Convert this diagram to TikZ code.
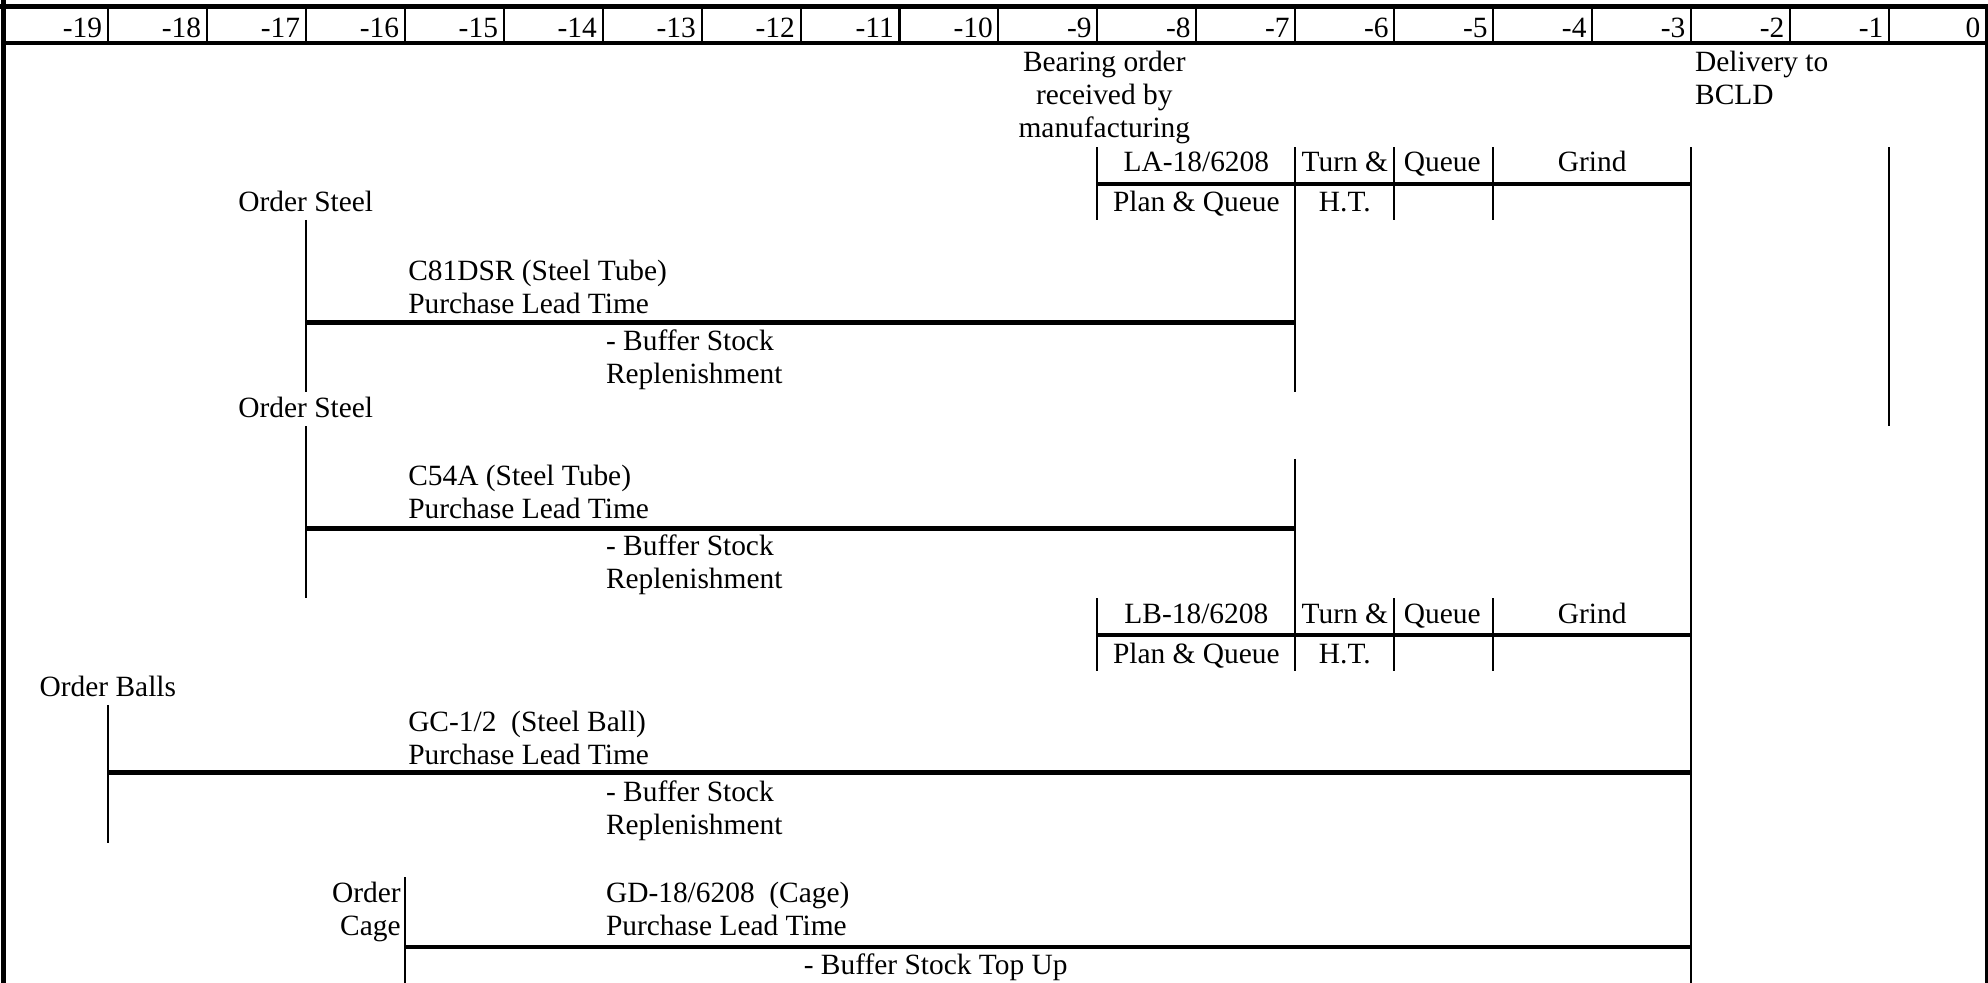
\documentclass[tikz,border=0pt]{standalone}
\usepackage{fontspec}
\setmainfont{Liberation Serif}
\newcommand{\mlines}[2][l]{\begin{tabular}[t]{@{}#1@{}}#2\end{tabular}}
\begin{document}
\begin{tikzpicture}[x=0.5pt,y=-0.5pt,
  every node/.style={inner sep=0pt,outer sep=0pt,font=\fontsize{11.6}{13}\selectfont},
  thinline/.style={line width=0.8pt},
  thickbar/.style={line width=1.8pt},
  frameline/.style={line width=2pt},
  txt/.style={anchor=base west},
  ctxt/.style={anchor=base},
  rtxt/.style={anchor=base east}]
\useasboundingbox (0,0) rectangle (1568,775);

% ---------- frame and header ----------
\coordinate (ftl) at (2.5,0);
\coordinate (fbl) at (2.5,775);
\coordinate (ttl) at (0,5);
\coordinate (ttr) at (1568,5);
\coordinate (rtop) at (1566.5,5);
\coordinate (rbot) at (1566.5,775);
\coordinate (hbl) at (2,34.2);
\coordinate (hbr) at (1566.5,34.2);
\draw[frameline] (ftl) -- (fbl);
\draw[frameline] (ttl) -- (ttr);
\draw[line width=1.1pt] (rtop) -- (rbot);
\draw[line width=1.5pt] (hbl) -- (hbr);
\foreach \n in {1,...,19}{
  \coordinate (sep\n t) at ({7+78.05*\n},5);
  \coordinate (sep\n b) at ({7+78.05*\n},34.2);
  \draw[thinline] (sep\n t) -- (sep\n b);
}
\foreach \n in {1,...,20}{
  \pgfmathsetmacro\xx{min(7+78.05*\n,1566.5)-4.5}
  \pgfmathtruncatemacro\lab{\n-20}
  \node[rtxt] (h\n) at (\xx,29.5) {\lab};
}

% ---------- top texts ----------
\node[ctxt] (bear) at (871,56.5) {\mlines[c]{Bearing order\\received by\\manufacturing}};
\node[txt] (deliv) at (1337,56.5) {\mlines{Delivery to\\BCLD}};

% ---------- LA block ----------
\node[ctxt] (la) at (943.6,135.5) {LA-18/6208};
\node[ctxt] (laturn) at (1060.7,135.5) {Turn \&};
\node[ctxt] (laqueue) at (1137.5,135.5) {Queue};
\node[ctxt] (lagrind) at (1255.8,135.5) {Grind};
\node[ctxt] (laplan) at (943.6,167) {Plan \& Queue};
\node[ctxt] (laht) at (1060.7,167) {H.T.};
\coordinate (laA) at (865.55,116);   \coordinate (laAb) at (865.55,173.5);
\coordinate (laB) at (1021.65,116);  \coordinate (laBb) at (1021.65,309);
\coordinate (laC) at (1099.7,116);   \coordinate (laCb) at (1099.7,173.5);
\coordinate (laD) at (1177.75,116);  \coordinate (laDb) at (1177.75,173.5);
\coordinate (laE) at (1333.85,116);  \coordinate (laEb) at (1333.85,775);
\coordinate (laF) at (1489.95,116);  \coordinate (laFb) at (1489.95,336);
\coordinate (laHl) at (865.55,145);  \coordinate (laHr) at (1333.85,145);
\draw[thinline] (laA) -- (laAb);
\draw[thinline] (laB) -- (laBb);
\draw[thinline] (laC) -- (laCb);
\draw[thinline] (laD) -- (laDb);
\draw[thinline] (laE) -- (laEb);
\draw[thinline] (laF) -- (laFb);
\draw[thickbar] (laHl) -- (laHr);

% ---------- C81DSR ----------
\node[ctxt] (os1) at (241.15,167) {Order Steel};
\node[txt] (c81) at (322,221) {\mlines{C81DSR (Steel Tube)\\Purchase Lead Time}};
\node[txt] (bs1) at (478,276.5) {\mlines{- Buffer Stock\\Replenishment}};
\coordinate (g1t) at (241.15,173.5); \coordinate (g1b) at (241.15,309);
\coordinate (g1l) at (241.15,254.5); \coordinate (g1r) at (1021.65,254.5);
\draw[thinline] (g1t) -- (g1b);
\draw[thickbar] (g1l) -- (g1r);

% ---------- C54A ----------
\node[ctxt] (os2) at (241.15,329) {Order Steel};
\node[txt] (c54) at (322,383) {\mlines{C54A (Steel Tube)\\Purchase Lead Time}};
\node[txt] (bs2) at (478,438.5) {\mlines{- Buffer Stock\\Replenishment}};
\coordinate (g2t) at (241.15,336); \coordinate (g2b) at (241.15,472);
\coordinate (g2l) at (241.15,417); \coordinate (g2r) at (1021.65,417);
\coordinate (g2et) at (1021.65,362); \coordinate (g2eb) at (1021.65,529.5);
\draw[thinline] (g2t) -- (g2b);
\draw[thinline] (g2et) -- (g2eb);
\draw[thickbar] (g2l) -- (g2r);

% ---------- LB block ----------
\node[ctxt] (lb) at (943.6,491.5) {LB-18/6208};
\node[ctxt] (lbturn) at (1060.7,491.5) {Turn \&};
\node[ctxt] (lbqueue) at (1137.5,491.5) {Queue};
\node[ctxt] (lbgrind) at (1255.8,491.5) {Grind};
\node[ctxt] (lbplan) at (943.6,523) {Plan \& Queue};
\node[ctxt] (lbht) at (1060.7,523) {H.T.};
\coordinate (lbA) at (865.55,472);  \coordinate (lbAb) at (865.55,529.5);
\coordinate (lbC) at (1099.7,472);  \coordinate (lbCb) at (1099.7,529.5);
\coordinate (lbD) at (1177.75,472); \coordinate (lbDb) at (1177.75,529.5);
\coordinate (lbHl) at (865.55,501); \coordinate (lbHr) at (1333.85,501);
\draw[thinline] (lbA) -- (lbAb);
\draw[thinline] (lbC) -- (lbCb);
\draw[thinline] (lbD) -- (lbDb);
\draw[thickbar] (lbHl) -- (lbHr);

% ---------- GC-1/2 ----------
\node[ctxt] (ob) at (85.05,549) {Order Balls};
\node[txt] (gc) at (322,577) {\mlines{GC-1/2~~(Steel Ball)\\Purchase Lead Time}};
\node[txt] (bs3) at (478,632.5) {\mlines{- Buffer Stock\\Replenishment}};
\coordinate (g3t) at (85.05,556); \coordinate (g3b) at (85.05,665);
\coordinate (g3l) at (85.05,609.5); \coordinate (g3r) at (1333.85,609.5);
\draw[thinline] (g3t) -- (g3b);
\draw[thickbar] (g3l) -- (g3r);

% ---------- GD-18/6208 ----------
\node[rtxt] (oc) at (316,712) {\mlines[r]{Order\\Cage}};
\node[txt] (gd) at (478,712) {\mlines{GD-18/6208~~(Cage)\\Purchase Lead Time}};
\node[txt] (bs4) at (634,769) {- Buffer Stock Top Up};
\coordinate (g4t) at (319.2,692); \coordinate (g4b) at (319.2,775);
\coordinate (g4l) at (319.2,747); \coordinate (g4r) at (1333.85,747);
\draw[thinline] (g4t) -- (g4b);
\draw[thickbar] (g4l) -- (g4r);
\end{tikzpicture}
\end{document}
